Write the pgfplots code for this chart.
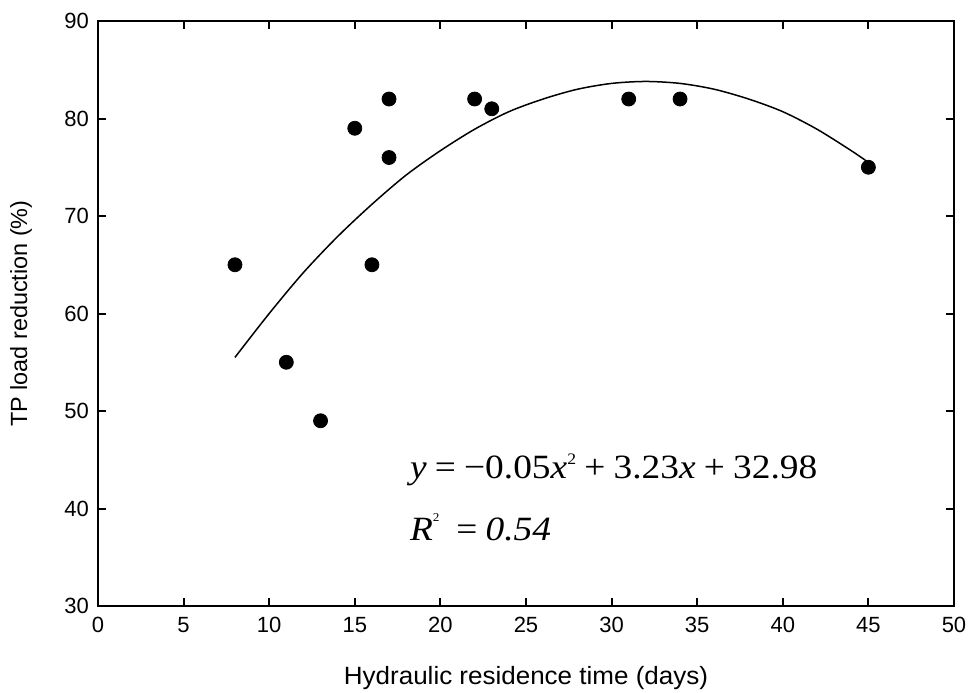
\documentclass[border=0pt]{standalone}
\usepackage{pgfplots}
\pgfplotsset{compat=1.18}
\usepackage{fontspec}
\setmainfont{Liberation Sans}
\newfontfamily\timesf{Liberation Serif}
\begin{document}
\begin{tikzpicture}
\useasboundingbox (-49pt,-43pt) rectangle (436pt,303pt);
\begin{axis}[
  scale only axis, width=428pt, height=292.5pt,
  xmin=0, xmax=50, ymin=30, ymax=90,
  xtick={0,5,...,50}, ytick={30,40,...,90},
  tick align=inside, major tick length=4pt,
  axis line style={line width=1pt}, tick style={line width=1pt, black},
  /pgf/number format/assume math mode=true,
  tick label style={font=\fontsize{11}{13}\selectfont},
  xticklabel style={yshift=-2pt},
  yticklabel style={xshift=-1pt},
  xlabel={Hydraulic residence time (days)},
  ylabel={TP load reduction (\%)},
  xlabel style={font=\fontsize{12.5}{14}\selectfont, at={(axis description cs:0.5,-0.123)}, anchor=center, xscale=1.04},
  ylabel style={font=\fontsize{11.7}{13}\selectfont, at={(axis description cs:-0.09,0.5)}, anchor=center},
]
\addplot[only marks, mark=*, mark size=3.5pt, black] coordinates {
(8,65) (11,55) (13,49) (15,79) (16,65) (17,82) (17,76) (22,82) (23,81) (31,82) (34,82) (45,75)
};
\addplot[smooth, black, line width=0.75pt] coordinates {
(8,55.5) (10,60.0) (12,64.2) (14,67.9) (16,71.2) (18,74.2) (20,76.7) (22,78.9) (24,80.7) (26,82.0) (28,83.0) (30,83.6) (32,83.8) (34,83.6) (36,83.0) (38,82.0) (40,80.7) (42,78.9) (44,76.7) (45,75.5)
};
\node[anchor=west, font=\timesf\fontsize{17}{19}\selectfont, inner sep=0pt, xscale=1.1] at (axis cs:18.2,44.0) {\textit{y}\hspace{0.22em}=\hspace{0.22em}\textminus 0.05\textit{x}\raisebox{0.9ex}{\fontsize{8}{9}\selectfont 2}\hspace{0.22em}+\hspace{0.22em}3.23\textit{x}\hspace{0.22em}+\hspace{0.22em}32.98};
\node[anchor=west, font=\timesf\fontsize{17}{19}\selectfont, inner sep=0pt, xscale=1.1] at (axis cs:18.2,38.1) {\textit{R}\raisebox{1.2ex}{\fontsize{6}{7}\selectfont 2}\hspace{0.45em}=\hspace{0.22em}\textit{0.54}};
\end{axis}
\end{tikzpicture}
\end{document}
